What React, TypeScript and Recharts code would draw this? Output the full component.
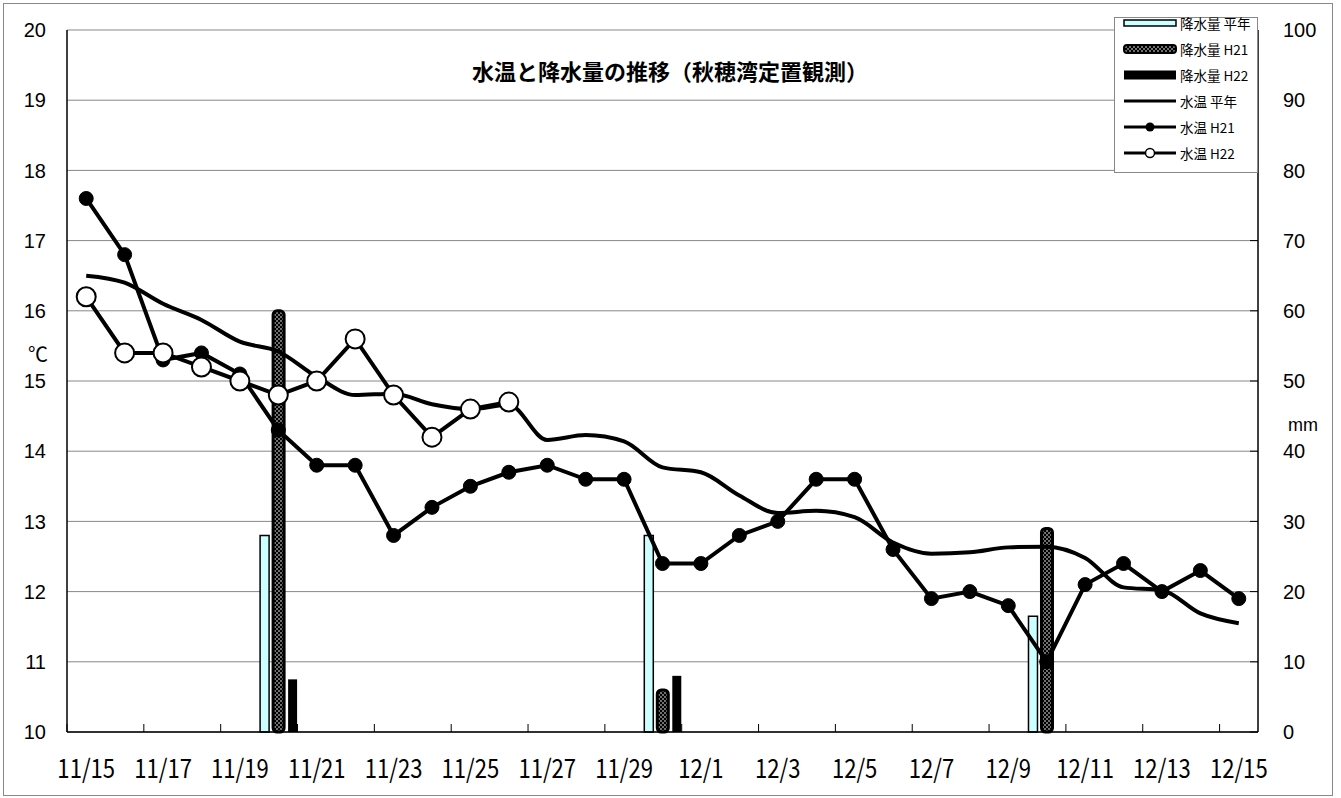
import React from "react";
import {
  ComposedChart,
  Bar,
  Line,
  XAxis,
  YAxis,
  CartesianGrid,
  Legend,
} from "recharts";

// 11/15 - 12/15
const dates = [
  "11/15", "11/16", "11/17", "11/18", "11/19", "11/20", "11/21", "11/22",
  "11/23", "11/24", "11/25", "11/26", "11/27", "11/28", "11/29", "11/30",
  "12/1", "12/2", "12/3", "12/4", "12/5", "12/6", "12/7", "12/8",
  "12/9", "12/10", "12/11", "12/12", "12/13", "12/14", "12/15",
];

// 水温 (℃)
const tempAvg = [
  16.5, 16.4, 16.1, 15.87, 15.56, 15.42, 15.06, 14.8, 14.82, 14.67, 14.6,
  14.66, 14.16, 14.23, 14.14, 13.77, 13.7, 13.37, 13.12, 13.15, 13.06, 12.7,
  12.54, 12.56, 12.63, 12.64, 12.48, 12.06, 12.02, 11.69, 11.55,
];
const tempH21 = [
  17.6, 16.8, 15.3, 15.4, 15.1, 14.3, 13.8, 13.8, 12.8, 13.2, 13.5, 13.7,
  13.8, 13.6, 13.6, 12.4, 12.4, 12.8, 13.0, 13.6, 13.6, 12.6, 11.9, 12.0,
  11.8, 11.0, 12.1, 12.4, 12.0, 12.3, 11.9,
];
const tempH22: (number | null)[] = [
  16.2, 15.4, 15.4, 15.2, 15.0, 14.8, 15.0, 15.6, 14.8, 14.2, 14.6, 14.7,
  null, null, null, null, null, null, null, null, null, null, null, null,
  null, null, null, null, null, null, null,
];

// 降水量 (mm)
const rainAvg = [
  0, 0, 0, 0, 0, 28, 0, 0, 0, 0, 0, 0, 0, 0, 0, 28, 0, 0, 0, 0, 0, 0, 0, 0,
  0, 16.5, 0, 0, 0, 0, 0,
];
const rainH21 = [
  0, 0, 0, 0, 0, 60, 0, 0, 0, 0, 0, 0, 0, 0, 0, 6, 0, 0, 0, 0, 0, 0, 0, 0,
  0, 29, 0, 0, 0, 0, 0,
];
const rainH22 = [
  0, 0, 0, 0, 0, 7.5, 0, 0, 0, 0, 0, 0, 0, 0, 0, 8, 0, 0, 0, 0, 0, 0, 0, 0,
  0, 0, 0, 0, 0, 0, 0,
];

const tempTicks = [10, 11, 12, 13, 14, 15, 16, 17, 18, 19, 20];
const rainTicks = [0, 10, 20, 30, 40, 50, 60, 70, 80, 90, 100];

const seriesNames = [
  "降水量 平年",
  "降水量 H21",
  "降水量 H22",
  "水温 平年",
  "水温 H21",
  "水温 H22",
];

const title = "水温と降水量の推移（秋穂湾定置観測）";

const data = dates.map((d, i) => ({
  date: d,
  rainAvg: rainAvg[i],
  rainH21: rainH21[i],
  rainH22: rainH22[i],
  tempAvg: tempAvg[i],
  tempH21: tempH21[i],
  tempH22: tempH22[i],
}));

const JP = '"Noto Sans CJK JP", sans-serif';
const ARIAL = '"Liberation Sans", Arial, sans-serif';

const DateTick = (props: any) => {
  const { x, y, payload } = props;
  const half = payload?.offset ?? 0;
  return (
    <g>
      <line x1={x - half} x2={x - half} y1={y - 28} y2={y - 36} stroke="#000" />
      <text
        transform={`translate(${x},${y}) scale(0.85,1)`}
        textAnchor="middle"
        dy="0.71em"
        fontSize={26}
        fontFamily={JP}
        fill="#000"
      >
        {payload.value}
      </text>
    </g>
  );
};

const LegendSymbol = ({ i }: { i: number }) => {
  if (i === 0)
    return <rect x={1} y={10} width={52} height={6} fill="#ccffff" stroke="#000" strokeWidth={1.5} />;
  if (i === 1)
    return <rect x={1} y={9} width={52} height={8} rx={3} fill="url(#dots)" stroke="#000" strokeWidth={2} />;
  if (i === 2) return <rect x={1} y={8.5} width={52} height={9} fill="#000" />;
  return (
    <g>
      <line x1={1} x2={53} y1={13} y2={13} stroke="#000" strokeWidth={3} />
      {i === 4 && <circle cx={27} cy={13} r={4.5} fill="#000" />}
      {i === 5 && <circle cx={27} cy={13} r={4.5} fill="#fff" stroke="#000" strokeWidth={1.5} />}
    </g>
  );
};

const renderLegend = () => (
  <div
    style={{
      width: 144,
      height: 156,
      background: "#fff",
      border: "1px solid #888",
      boxSizing: "border-box",
      fontFamily: JP,
      fontSize: 13.5,
      color: "#000",
      position: "relative",
    }}
  >
    {seriesNames.map((name, i) => (
      <div key={name} style={{ position: "absolute", left: 0, top: -8 + i * 26, height: 26, width: 144 }}>
        <svg width={56} height={26} style={{ position: "absolute", left: 8, top: 0, overflow: "visible" }}>
          <LegendSymbol i={i} />
        </svg>
        <div
          style={{
            position: "absolute",
            left: 65,
            top: 5,
            width: 78,
            lineHeight: "16px",
            whiteSpace: "nowrap",
          }}
        >
          {name}
        </div>
      </div>
    ))}
  </div>
);

export default function App() {
  return (
    <div style={{ position: "absolute", left: 0, top: 0, width: 1341, height: 798, background: "#fff" }}>
      <ComposedChart
        width={1341}
        height={798}
        data={data}
        margin={{ top: 30, right: 0, bottom: 0, left: 0 }}
      >
        <defs>
          <pattern id="dots" width="4" height="4" patternUnits="userSpaceOnUse">
            <rect width="4" height="4" fill="#000" />
            <circle cx="1" cy="1" r="0.8" fill="#fff" />
            <circle cx="3" cy="3" r="0.8" fill="#fff" />
          </pattern>
        </defs>
        <CartesianGrid vertical={false} stroke="#888" strokeWidth={1} />
        <XAxis
          dataKey="date"
          interval={1}
          height={66}
          tickSize={0}
          tickMargin={28}
          tick={<DateTick />}
          axisLine={{ stroke: "#000", strokeWidth: 1.5 }}
        />
        <YAxis
          domain={[10, 20]}
          ticks={tempTicks}
          width={67}
          tickSize={0}
          tickMargin={21}
          axisLine={{ stroke: "#000", strokeWidth: 1.5 }}
          tick={{ fill: "#000", fontSize: 20, fontFamily: ARIAL }}
          allowDataOverflow
        />
        <YAxis
          yAxisId="right"
          orientation="right"
          domain={[0, 100]}
          ticks={rainTicks}
          width={83}
          tickSize={-8}
          tickMargin={33}
          tickLine={{ stroke: "#000" }}
          axisLine={{ stroke: "#000", strokeWidth: 1.5 }}
          tick={{ fill: "#000", fontSize: 20, fontFamily: ARIAL, textAnchor: "start" }}
        />
        <Bar
          yAxisId="right"
          dataKey="rainAvg"
          name={seriesNames[0]}
          barSize={9}
          fill="#ccffff"
          stroke="#000"
          strokeWidth={1.5}
          isAnimationActive={false}
        />
        <Bar
          yAxisId="right"
          dataKey="rainH21"
          name={seriesNames[1]}
          barSize={11}
          fill="url(#dots)"
          stroke="#000"
          strokeWidth={3}
          radius={4}
          isAnimationActive={false}
        />
        <Bar
          yAxisId="right"
          dataKey="rainH22"
          name={seriesNames[2]}
          barSize={9}
          fill="#000"
          isAnimationActive={false}
        />
        <Line
          type="monotone"
          dataKey="tempAvg"
          name={seriesNames[3]}
          stroke="#000"
          strokeWidth={4}
          dot={false}
          activeDot={false}
          isAnimationActive={false}
        />
        <Line
          type="linear"
          dataKey="tempH21"
          name={seriesNames[4]}
          stroke="#000"
          strokeWidth={4}
          dot={{ r: 7, fill: "#000", stroke: "#000", strokeWidth: 1 }}
          activeDot={false}
          isAnimationActive={false}
        />
        <Line
          type="linear"
          dataKey="tempH22"
          name={seriesNames[5]}
          stroke="#000"
          strokeWidth={4}
          dot={{ r: 9.5, fill: "#fff", stroke: "#000", strokeWidth: 2 }}
          activeDot={false}
          isAnimationActive={false}
        />
        <Legend
          layout="vertical"
          align="center"
          verticalAlign="middle"
          content={renderLegend}
          wrapperStyle={{ position: "absolute", left: 1114, top: 17, width: 144, height: 156 }}
        />
      </ComposedChart>
      <div
        style={{
          position: "absolute",
          left: 420,
          top: 59,
          width: 500,
          textAlign: "center",
          fontFamily: JP,
          fontWeight: 700,
          fontSize: 22,
          lineHeight: "22px",
          color: "#000",
        }}
      >
        {title}
      </div>
      <div style={{ position: "absolute", left: 28, top: 344, fontFamily: JP, fontSize: 20, lineHeight: "20px" }}>
        ℃
      </div>
      <div style={{ position: "absolute", left: 1288, top: 415, fontFamily: ARIAL, fontSize: 18, lineHeight: "20px" }}>
        mm
      </div>
      <div
        style={{
          position: "absolute",
          left: 3,
          top: 3,
          width: 1330,
          height: 793,
          border: "1px solid #888",
          boxSizing: "border-box",
          pointerEvents: "none",
        }}
      />
    </div>
  );
}
